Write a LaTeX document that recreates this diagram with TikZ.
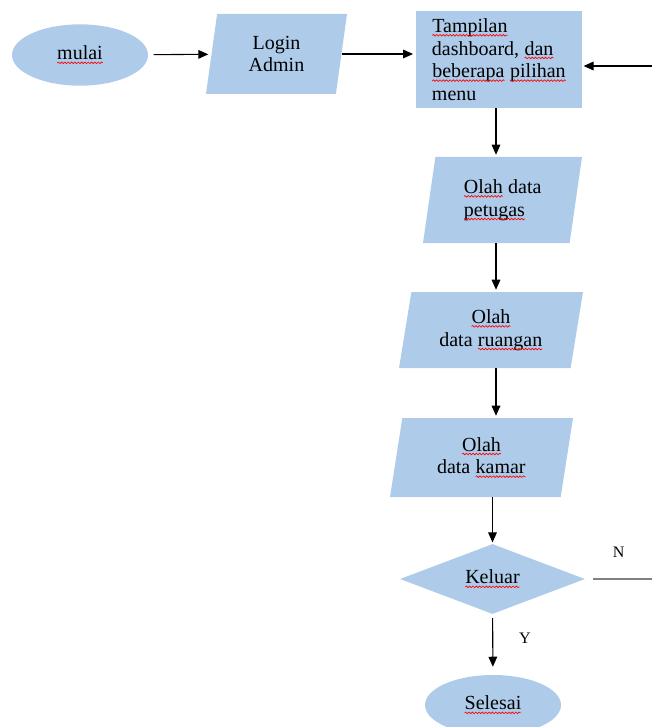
\documentclass[tikz,border=0pt]{standalone}
\usepackage{fontspec}
\setmainfont{Liberation Serif}
\usetikzlibrary{shapes.geometric, arrows.meta, decorations.pathmorphing}
\definecolor{boxblue}{RGB}{174,204,234}
\definecolor{linegray}{RGB}{128,128,128}

% red wavy line of the spell checker
\newcommand{\salah}[1]{\tikz[baseline=(w.base)]{\node[rectangle, fill=none, draw=none, inner sep=0pt,
    outer sep=0pt, minimum width=0pt, minimum height=0pt] (w) {#1};
  \draw[-, red, line width=0.5pt, decorate, decoration={snake, amplitude=0.6pt, segment length=2.5pt}]
    ([yshift=-2.2pt]w.base west) -- ([yshift=-2.2pt]w.base east);}}

\begin{document}
\begin{tikzpicture}[x=0.75pt, y=-0.75pt, ->, >={Triangle[length=7.5pt, width=6.5pt]},
    line width=0.8pt,
    every node/.style={font=\fontsize{15}{17}\selectfont},
    terminal/.style={ellipse, fill=boxblue, minimum width=102pt, minimum height=46pt},
    proses/.style={rectangle, fill=boxblue, align=left},
    io/.style={trapezium, trapezium left angle=75, trapezium right angle=105,
      trapezium stretches body, fill=boxblue, inner sep=2pt},
    putusan/.style={diamond, fill=boxblue, aspect=2.64, inner sep=0pt,
      minimum width=138.75pt, minimum height=52.5pt},
    cabang/.style={text=black, font=\fontsize{12}{14}\selectfont}]
  \useasboundingbox (0,0) rectangle (652,727);

  \node[terminal] (mulai) at (80,55) {\salah{mulai}};
  \node[io, minimum width=105.75pt, minimum height=60pt, align=center] (login) at (276.5,54) {Login\\Admin};
  \node[proses, minimum width=124.5pt, minimum height=72.75pt] (tampilan) at (499,59.5)
    {\salah{Tampilan}\\dashboard, \salah{dan}\\\salah{beberapa} \salah{pilihan}\\menu};
  \node[io, minimum width=119.25pt, minimum height=64.5pt, align=left] (petugas) at (502.5,200)
    {\salah{Olah} data\\\salah{petugas}};
  \node[io, minimum width=138pt, minimum height=57pt, align=center] (ruangan) at (491,330)
    {\salah{Olah}\\data \salah{ruangan}};
  \node[io, minimum width=137.25pt, minimum height=59.25pt, align=center] (kamar) at (481.5,457.5)
    {\salah{Olah}\\data \salah{kamar}};
  \node[putusan] (keluar) at (492.5,579) {\salah{Keluar}};
  \node[terminal, minimum height=45pt] (selesai) at (493,705) {\salah{Selesai}};

  \coordinate (spine) at (496,0);
  \coordinate (balik) at (652,66);
  \coordinate (ujung) at (652,580);

  \draw[shorten <=4pt, shorten >=2pt] (mulai) -- (login);
  \draw[shorten >=2pt] (login.east) -- (login.east -| tampilan.west);
  \draw[shorten >=1pt] (balik) -- (tampilan.east |- balik);

  \draw[shorten >=1.5pt] (tampilan.south -| spine) -- (petugas.north -| spine);
  \draw[shorten >=1.5pt] (petugas.south -| spine) -- (ruangan.north -| spine);
  \draw[shorten >=1.5pt] (ruangan.south -| spine) -- (kamar.north -| spine);
  \draw[shorten >=1pt] (kamar.south -| keluar.north) -- (keluar.north);

  \draw[shorten <=3pt, shorten >=6pt] (keluar) -- node[cabang, anchor=west, xshift=16pt, yshift=5pt] (ya) {Y} (selesai);
  \draw[-, linegray, line width=1.2pt, shorten <=6pt] (keluar.east) -- node[cabang, midway, above=12pt] (tidak) {N} (keluar.east -| ujung);
\end{tikzpicture}
\end{document}
